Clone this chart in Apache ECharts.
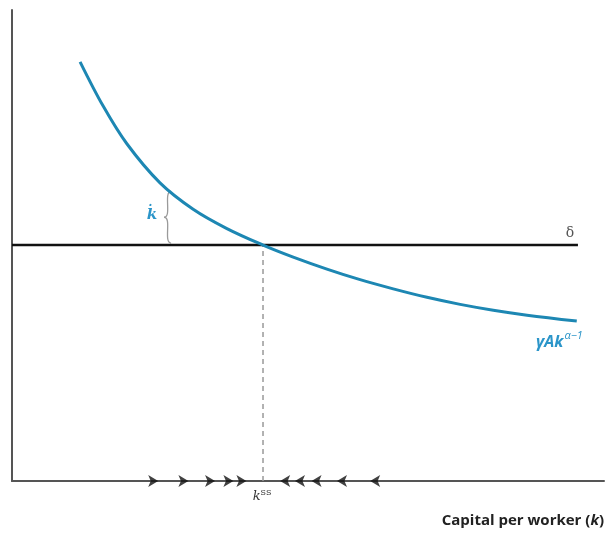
<!DOCTYPE html>
<html>
<head>
<meta charset="utf-8">
<script src="https://cdn.jsdelivr.net/npm/echarts@6/dist/echarts.min.js"></script>
<style>
  html, body { margin: 0; padding: 0; background: #ffffff; }
  #chart { width: 607px; height: 540px; }
</style>
</head>
<body>
<div id="chart"></div>
<script>
// Capital per worker k on the horizontal axis, growth-rate terms on the vertical axis
const curveK = [11.5, 15.4, 19.4, 25.0, 30.6, 36.3, 42.4, 47.5, 53.2, 58.8, 64.4, 70.1, 75.7, 81.3, 87.0, 95.4];
const curveY = [89.0, 79.6, 71.6, 63.3, 57.7, 53.6, 50.1, 47.55, 45.0, 42.75, 40.8, 39.0, 37.5, 36.25, 35.2, 33.95];
const deltaLevel = 50.1;        // depreciation rate δ
const deltaEnd = 95.6;
const kSteady = 42.4;           // steady-state capital k^ss
const arrowsRight = [24.7, 29.8, 34.3, 37.4, 39.6];
const arrowsLeft = [45.3, 47.8, 50.6, 54.9, 60.5];
const braceK = 26.2;            // where the growth gap is marked

const blue = '#1d87b3';
const blueText = '#2b95c9';

const chart = echarts.init(document.getElementById('chart'), null, { renderer: 'canvas' });

const axisCommon = {
  type: 'value', min: 0, max: 100,
  axisLine: { show: true, onZero: false, lineStyle: { color: '#555555', width: 2 } },
  axisTick: { show: false }, axisLabel: { show: false }, splitLine: { show: false }
};

chart.setOption({
  animation: false,
  grid: { left: 12, right: 3, top: 10, bottom: 59 },
  xAxis: Object.assign({}, axisCommon),
  yAxis: Object.assign({}, axisCommon),
  series: [
    {
      name: 'delta', type: 'line', symbol: 'none', z: 3,
      data: [[0, deltaLevel], [deltaEnd, deltaLevel]],
      lineStyle: { color: '#111111', width: 2.5 }
    },
    {
      name: 'steady', type: 'line', symbol: 'none', z: 2,
      data: [[kSteady, 0], [kSteady, deltaLevel]],
      lineStyle: { color: '#999999', width: 1.5, type: [5, 4] }
    },
    {
      name: 'curve', type: 'line', symbol: 'none', smooth: 0.35, z: 4,
      data: curveK.map((k, i) => [k, curveY[i]]),
      lineStyle: { color: blue, width: 3 }
    },
    {
      name: 'right', type: 'scatter', symbol: 'arrow', symbolSize: [9, 10], symbolRotate: -90, z: 5,
      data: arrowsRight.map(k => [k, 0]),
      itemStyle: { color: '#111111' }
    },
    {
      name: 'left', type: 'scatter', symbol: 'arrow', symbolSize: [9, 10], symbolRotate: 90, z: 5,
      data: arrowsLeft.map(k => [k, 0]),
      itemStyle: { color: '#111111' }
    }
  ]
});

const px = (x, y) => chart.convertToPixel({ gridIndex: 0 }, [x, y]);

// Curve height at braceK, by linear lookup in the curve points
function curveAt(k) {
  for (let i = 0; i < curveK.length - 1; i++) {
    if (k >= curveK[i] && k <= curveK[i + 1]) {
      const t = (k - curveK[i]) / (curveK[i + 1] - curveK[i]);
      return curveY[i] + t * (curveY[i + 1] - curveY[i]);
    }
  }
  return curveY[curveY.length - 1];
}

// Two cubic halves form a left-pointing curly brace
function braceHalves(x, y1, y2, w) {
  const ym = (y1 + y2) / 2;
  const style = { fill: null, stroke: '#9a9a9a', lineWidth: 1.3 };
  return [
    {
      type: 'bezierCurve', silent: true, style: style,
      shape: { x1: x + w, y1: y1, cpx1: x - 1, cpy1: y1, cpx2: x + w + 1, cpy2: ym, x2: x, y2: ym }
    },
    {
      type: 'bezierCurve', silent: true, style: style,
      shape: { x1: x, y1: ym, cpx1: x + w + 1, cpy1: ym, cpx2: x - 1, cpy2: y2, x2: x + w, y2: y2 }
    }
  ];
}

const pDeltaEnd = px(deltaEnd, deltaLevel);
const pCurveEnd = px(curveK[curveK.length - 1], curveY[curveY.length - 1]);
const pSteady = px(kSteady, 0);
const pBraceTop = px(braceK, curveAt(braceK));
const pBraceBot = px(braceK, deltaLevel);
const gridRight = px(100, 0);

chart.setOption({
  graphic: braceHalves(pBraceTop[0] - 3, pBraceTop[1] + 3, pBraceBot[1] - 2, 7).concat([
    {
      type: 'text', silent: true,
      x: pBraceTop[0] - 10, y: (pBraceTop[1] + pBraceBot[1]) / 2 - 2,
      style: {
        text: 'k\u0307', fill: blueText, font: 'italic bold 15px "DejaVu Serif"',
        align: 'right', verticalAlign: 'middle'
      }
    },
    {
      type: 'text', silent: true,
      x: pDeltaEnd[0] - 8, y: pDeltaEnd[1] - 5,
      style: {
        text: 'δ', fill: '#555555', font: '14px "DejaVu Serif"',
        align: 'center', verticalAlign: 'bottom'
      }
    },
    {
      type: 'text', silent: true,
      x: pCurveEnd[0] + 6, y: pCurveEnd[1] + 19,
      style: {
        text: '{b|γAk}{s|α−1}',
        align: 'right', verticalAlign: 'middle',
        rich: {
          b: { fill: blueText, font: 'italic bold 16px "Open Sans"', verticalAlign: 'bottom' },
          s: { fill: blueText, font: 'italic 11px "Open Sans"', verticalAlign: 'top', padding: [0, 0, 9, 1] }
        }
      }
    },
    {
      type: 'text', silent: true,
      x: pSteady[0] - 1, y: pSteady[1] + 16,
      style: {
        text: '{b|k}{s|SS}',
        align: 'center', verticalAlign: 'middle',
        rich: {
          b: { fill: '#333333', font: 'italic 13px "DejaVu Serif"' },
          s: { fill: '#333333', font: '8px "DejaVu Serif"', padding: [0, 0, 9, 0] }
        }
      }
    },
    {
      type: 'text', silent: true,
      x: gridRight[0], y: 521,
      style: {
        text: '{n|Capital per worker (}{i|k}{n|)}',
        align: 'right', verticalAlign: 'middle',
        rich: {
          n: { fill: '#222222', font: 'bold 15px "Open Sans"' },
          i: { fill: '#222222', font: 'italic bold 15px "Open Sans"' }
        }
      }
    }
  ])
});
</script>
</body>
</html>
